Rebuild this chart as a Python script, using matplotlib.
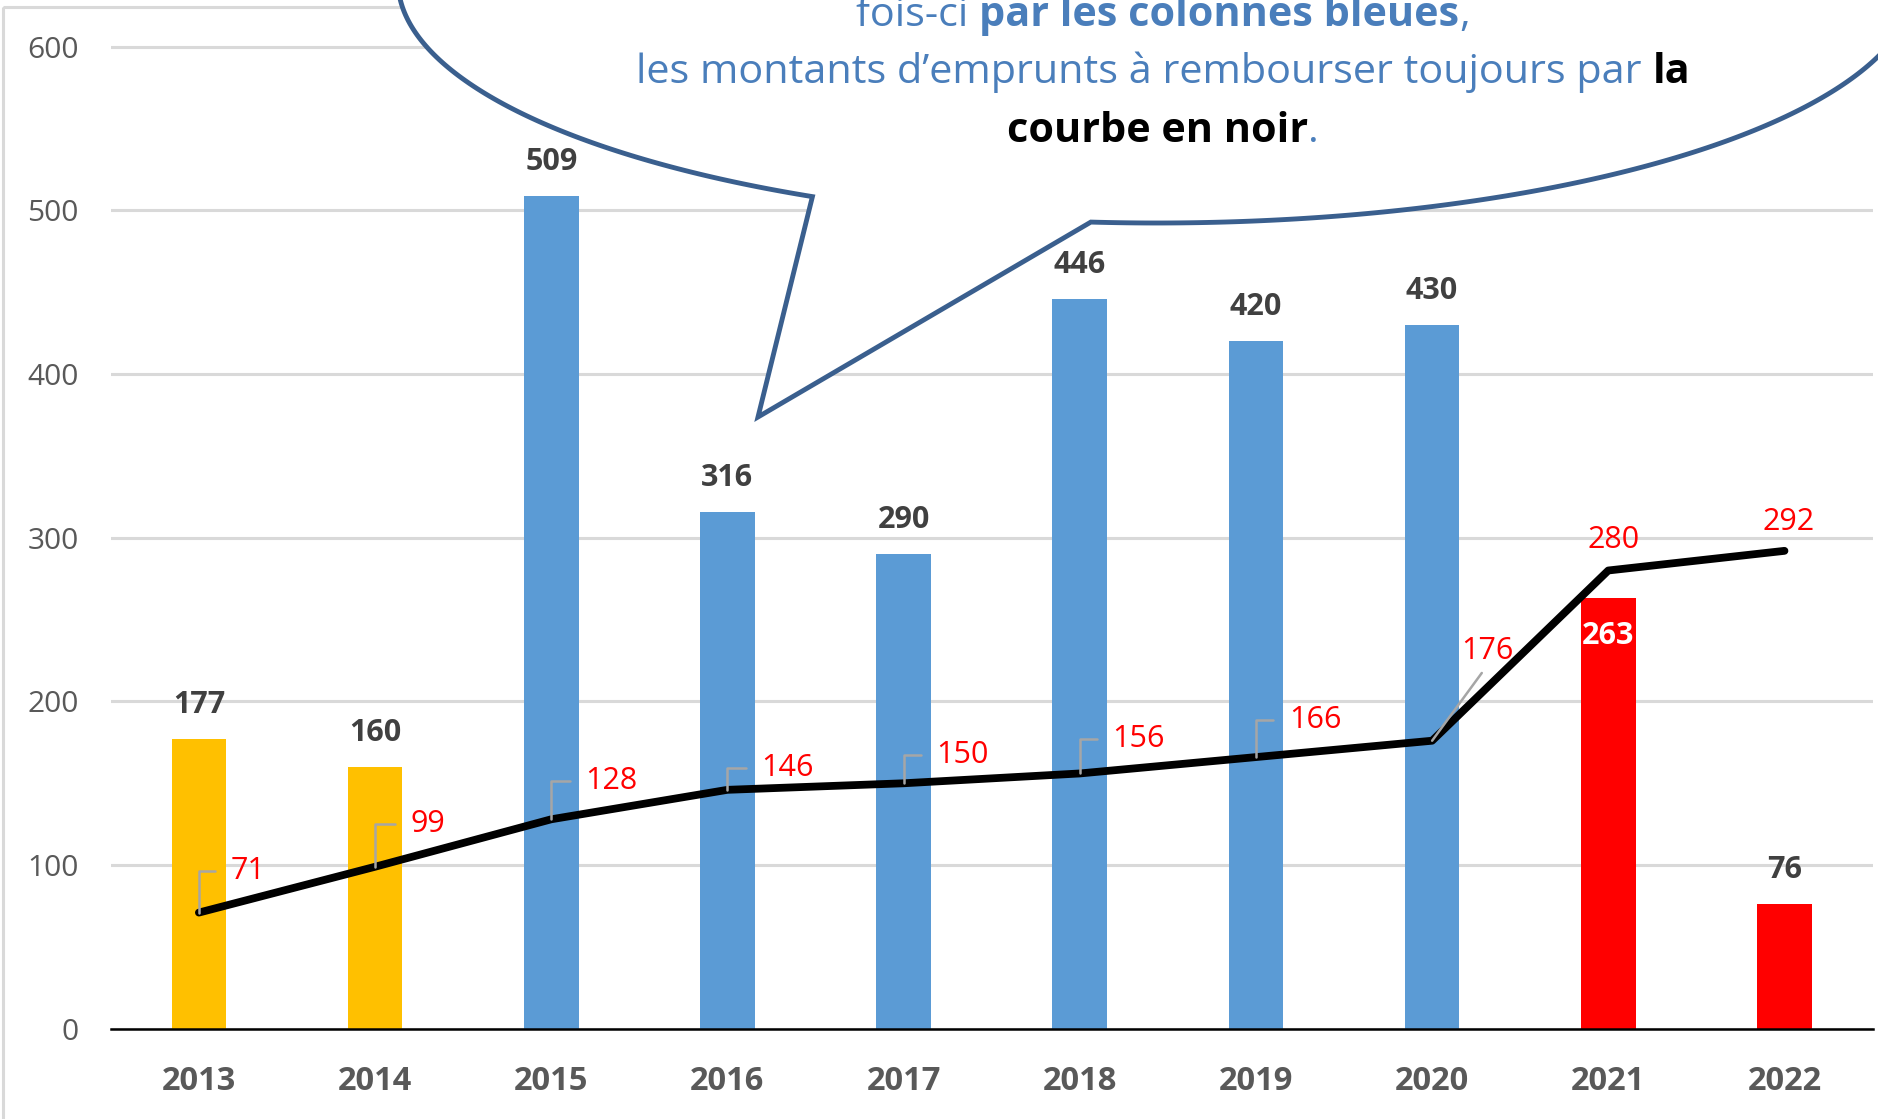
import numpy as np
import matplotlib.pyplot as plt
from matplotlib.patches import Polygon, Rectangle

plt.rcParams['font.family'] = ['Open Sans', 'DejaVu Sans']

annees = ["2013", "2014", "2015", "2016", "2017", "2018", "2019", "2020", "2021", "2022"]
colonnes = [177, 160, 509, 316, 290, 446, 420, 430, 263, 76]
courbe = [71, 99, 128, 146, 150, 156, 166, 176, 280, 292]
couleurs = ["#FFC000", "#FFC000", "#5B9BD5", "#5B9BD5", "#5B9BD5", "#5B9BD5",
            "#5B9BD5", "#5B9BD5", "#FF0000", "#FF0000"]

# decalage des etiquettes rouges (pixels) et type de trait de rappel
decal = [(49, 42), (53, 43), (60, 38), (60, 22), (59, 28), (59, 34), (59, 37),
         (55, 90), (5, 30), (4, 29)]
rappel = ["coude"] * 7 + ["droit", None, None]

bleu = "#4A7EBB"

fig = plt.figure(figsize=(18.78, 11.19), dpi=100)
ax = fig.add_axes([0.0590, 0.0806, 0.9381, 0.8923])

x = np.arange(len(annees))
ax.bar(x, colonnes, width=0.31, color=couleurs, zorder=2)
ax.plot(x, courbe, color="black", lw=5.6, solid_capstyle="round",
        solid_joinstyle="round", zorder=4)

ax.set_xlim(-0.5, 9.5)
ax.set_ylim(0, 610)
ax.set_yticks(range(0, 601, 100))
ax.set_xticks(x)
ax.set_xticklabels(annees)
ax.yaxis.grid(True, color="#D9D9D9", lw=2.2)
ax.set_axisbelow(True)
for s in ["top", "right", "left"]:
    ax.spines[s].set_visible(False)
ax.spines["bottom"].set_color("black")
ax.spines["bottom"].set_linewidth(1.8)
ax.spines["bottom"].set_zorder(3)
ax.tick_params(axis="both", length=0)
ax.tick_params(axis="y", pad=23, labelsize=21.5, labelcolor="#595959")
ax.tick_params(axis="x", pad=26, labelsize=23.5, labelcolor="#595959")
for lbl in ax.get_xticklabels():
    lbl.set_fontweight("bold")

# etiquettes des colonnes
for i, v in enumerate(colonnes):
    if i == 8:
        ax.annotate(str(v), (i, v), xytext=(0, -38), textcoords="offset pixels",
                    ha="center", va="center", fontsize=22, fontweight="bold",
                    color="white", zorder=5)
    else:
        ax.annotate(str(v), (i, v), xytext=(0, 34), textcoords="offset pixels",
                    ha="center", va="center", fontsize=22, fontweight="bold",
                    color="#404040", zorder=5)

# etiquettes de la courbe
for i, v in enumerate(courbe):
    props = None
    if rappel[i] == "coude":
        props = dict(arrowstyle="-", color="#A6A6A6", lw=1.8, relpos=(0, 0.5),
                     shrinkA=9, shrinkB=0,
                     connectionstyle="angle,angleA=0,angleB=90,rad=0")
    elif rappel[i] == "droit":
        props = dict(arrowstyle="-", color="#A6A6A6", lw=1.8, relpos=(0.5, 0),
                     shrinkA=4, shrinkB=0)
    ax.annotate(str(v), (i, v), xytext=decal[i], textcoords="offset pixels",
                ha="center", va="center", fontsize=22, color="#FF0000",
                arrowprops=props, zorder=5)

# calque en pixels pour la bulle
ov = fig.add_axes([0, 0, 1, 1], zorder=10)
ov.set_xlim(0, 1878)
ov.set_ylim(1119, 0)
ov.axis("off")

ov.add_patch(Rectangle((3, 7), 1950, 1200, fill=False, edgecolor="#D9D9D9", lw=2.2))

cx, cy, a, b = 1157, -19, 759, 242
t = np.radians(np.linspace(117, 455, 500))
pts = np.column_stack([cx + a * np.cos(t), cy + b * np.sin(t)])
pts = np.vstack([pts, [758, 417]])
ov.add_patch(Polygon(pts, closed=True, facecolor="white", edgecolor="#3A5F8E",
                     lw=3.5, joinstyle="miter"))

rend = fig.canvas.get_renderer()


def largeur(txt, size, w):
    t1 = ov.text(0, 0, txt + "|", fontsize=size, fontweight=w)
    t2 = ov.text(0, 0, "|", fontsize=size, fontweight=w)
    res = t1.get_window_extent(rend).width - t2.get_window_extent(rend).width
    t1.remove()
    t2.remove()
    return res


def ligne(morceaux, cx, yb, size):
    ws = [largeur(m[0], size, m[2]) for m in morceaux]
    x0 = cx - sum(ws) / 2
    for (txt, col, w), wd in zip(morceaux, ws):
        ov.text(x0, yb, txt, fontsize=size, fontweight=w, color=col,
                ha="left", va="baseline")
        x0 += wd
    return sum(ws)


l1 = [("fois-ci ", bleu, "normal"), ("par les colonnes bleues", bleu, "bold"),
      (",", bleu, "normal")]
l2 = [("les montants d\u2019emprunts à rembourser toujours par ", bleu, "normal"),
      ("la", "black", "bold")]
l3 = [("courbe en noir", "black", "bold"), (".", bleu, "normal")]

w_ref = sum(largeur(m[0], 30, m[2]) for m in l2)
taille = 30 * 1053 / w_ref

ligne(l1, 1163, 26, taille)
ligne(l2, 1163, 83, taille)
ligne(l3, 1163, 142, taille)

fig.savefig("out.png", dpi=100)
